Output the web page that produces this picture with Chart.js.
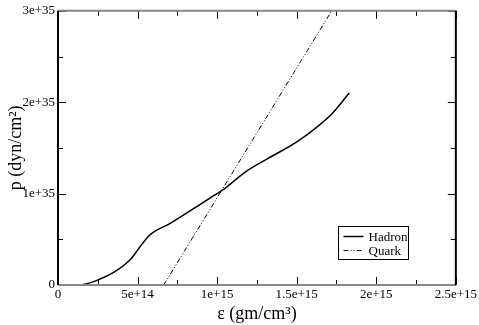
<!DOCTYPE html>
<html>
<head>
<meta charset="utf-8">
<script src="https://cdn.jsdelivr.net/npm/chart.js@4"></script>
<style>
  html, body { margin: 0; padding: 0; background: #fff; }
  #wrap { width: 479px; height: 325px; }
</style>
</head>
<body>
<div id="wrap"><canvas id="eosChart" width="479" height="325"></canvas></div>
<script>
// energy density (gm/cm^3) and pressure (dyn/cm^2)
var hadronEps = [0, 0.157e15, 0.25e15, 0.355e15, 0.449e15, 0.512e15, 0.545e15, 0.576e15, 0.62e15, 0.71e15, 0.856e15, 0.952e15, 1.036e15, 1.192e15, 1.37e15, 1.496e15, 1.621e15, 1.725e15, 1.83e15];
var hadronP   = [0, 0.005e35, 0.054e35, 0.143e35, 0.269e35, 0.41e35, 0.485e35, 0.545e35, 0.60e35, 0.68e35, 0.84e35, 0.949e35, 1.04e35, 1.255e35, 1.433e35, 1.56e35, 1.72e35, 1.88e35, 2.10e35];
var quarkEps = [0.664e15, 1.72e15];
var quarkP   = [0, 3.0e35];
var seriesNames = ["Hadron", "Quark"];

function pairs(xs, ys) {
  return xs.map(function (x, i) { return { x: x, y: ys[i] }; });
}

function fmtExp(v) {
  if (v === 0) return "0";
  var e = Math.floor(Math.log10(Math.abs(v)) + 1e-9);
  var m = v / Math.pow(10, e);
  m = Math.round(m * 100) / 100;
  return m + "e+" + e;
}

var serif = "'Liberation Serif', 'DejaVu Serif', serif";

// frame + inward ticks on all four sides, and the boxed legend
var frameTicks = {
  id: "frameTicks",
  afterDatasetsDraw: function (chart) {
    var c = chart.ctx, a = chart.chartArea;
    var xs = chart.scales.x, ys = chart.scales.y;
    c.save();
    c.lineWidth = 1;
    c.strokeStyle = "#000";
    var v, px, len;
    for (v = 0; v <= 2.5e15 + 1; v += 2.5e14) {
      px = Math.round(xs.getPixelForValue(v)) + 0.5;
      len = (Math.round(v / 2.5e14) % 2 === 0) ? 8 : 5;
      c.beginPath();
      c.moveTo(px, a.bottom); c.lineTo(px, a.bottom - len);
      c.moveTo(px, a.top); c.lineTo(px, a.top + len);
      c.stroke();
    }
    for (v = 0; v <= 3e35 + 1; v += 0.5e35) {
      px = Math.round(ys.getPixelForValue(v)) + 0.5;
      len = (Math.round(v / 0.5e35) % 2 === 0) ? 8 : 5;
      c.beginPath();
      c.moveTo(a.left, px); c.lineTo(a.left + len, px);
      c.moveTo(a.right, px); c.lineTo(a.right - len, px);
      c.stroke();
    }
    c.lineWidth = 2;
    c.strokeStyle = "#888";
    c.beginPath();
    c.moveTo(a.left, a.top); c.lineTo(a.right, a.top);
    c.moveTo(a.left, a.bottom); c.lineTo(a.right, a.bottom);
    c.stroke();
    c.strokeStyle = "#000";
    c.beginPath();
    c.moveTo(a.left, a.top); c.lineTo(a.left, a.bottom);
    c.moveTo(a.right, a.top); c.lineTo(a.right, a.bottom);
    c.stroke();

    var bx = 338.5, by = 226.5, bw = 70, bh = 33;
    c.lineWidth = 1;
    c.fillStyle = "#fff";
    c.fillRect(bx, by, bw, bh);
    c.strokeRect(bx, by, bw, bh);
    c.font = "13px " + serif;
    c.textBaseline = "middle";
    c.textAlign = "left";
    chart.data.datasets.forEach(function (ds, i) {
      var ly = Math.round(by + 9 + i * 14) + 0.5;
      c.save();
      c.strokeStyle = ds.borderColor;
      c.lineWidth = ds.borderWidth;
      c.setLineDash(ds.borderDash || []);
      c.beginPath();
      c.moveTo(bx + 5, ly);
      c.lineTo(bx + 25, ly);
      c.stroke();
      c.restore();
      c.fillStyle = "#000";
      c.fillText(ds.label, bx + 30, ly + 1);
    });
    c.restore();
  }
};

var ctx = document.getElementById("eosChart").getContext("2d");
var myChart = new Chart(ctx, {
  type: "scatter",
  data: {
    datasets: [
      {
        label: seriesNames[0],
        data: pairs(hadronEps, hadronP),
        showLine: true,
        borderColor: "#000",
        borderWidth: 1.5,
        pointRadius: 0,
        tension: 0.35,
      },
      {
        label: seriesNames[1],
        data: pairs(quarkEps, quarkP),
        showLine: true,
        borderColor: "#000",
        borderWidth: 1,
        borderDash: [5, 2, 1, 2, 1, 2],
        pointRadius: 0,
      },
    ],
  },
  options: {
    responsive: false,
    animation: false,
    events: [],
    layout: { padding: { top: 6, right: 21, left: 0, bottom: 0 } },
    plugins: {
      legend: { display: false },
      tooltip: { enabled: false },
    },
    scales: {
      x: {
        type: "linear",
        min: 0,
        max: 2.5e15,
        afterFit: function (s) { s.height = 40; },
        afterBuildTicks: function (s) {
          s.ticks = [0, 5e14, 1e15, 1.5e15, 2e15, 2.5e15].map(function (v) { return { value: v }; });
        },
        grid: { display: false, drawTicks: false },
        border: { display: false },
        ticks: {
          autoSkip: false,
          maxRotation: 0,
          padding: 2,
          color: "#000",
          font: { family: serif, size: 13 },
          callback: function (v) { return fmtExp(v); },
        },
        title: {
          display: true,
          text: "ε (gm/cm³)",
          color: "#000",
          padding: { top: 0, bottom: 0 },
          font: { family: serif, size: 18 },
        },
      },
      y: {
        type: "linear",
        min: 0,
        max: 3e35,
        afterFit: function (s) { s.width = 58; },
        afterBuildTicks: function (s) {
          s.ticks = [0, 1e35, 2e35, 3e35].map(function (v) { return { value: v }; });
        },
        grid: { display: false, drawTicks: false },
        border: { display: false },
        ticks: {
          autoSkip: false,
          padding: 3,
          color: "#000",
          font: { family: serif, size: 13 },
          callback: function (v) { return fmtExp(v); },
        },
        title: {
          display: true,
          text: "p (dyn/cm²)",
          color: "#000",
          padding: { top: 5, bottom: 0 },
          font: { family: serif, size: 18 },
        },
      },
    },
  },
  plugins: [frameTicks],
});
</script>
</body>
</html>
